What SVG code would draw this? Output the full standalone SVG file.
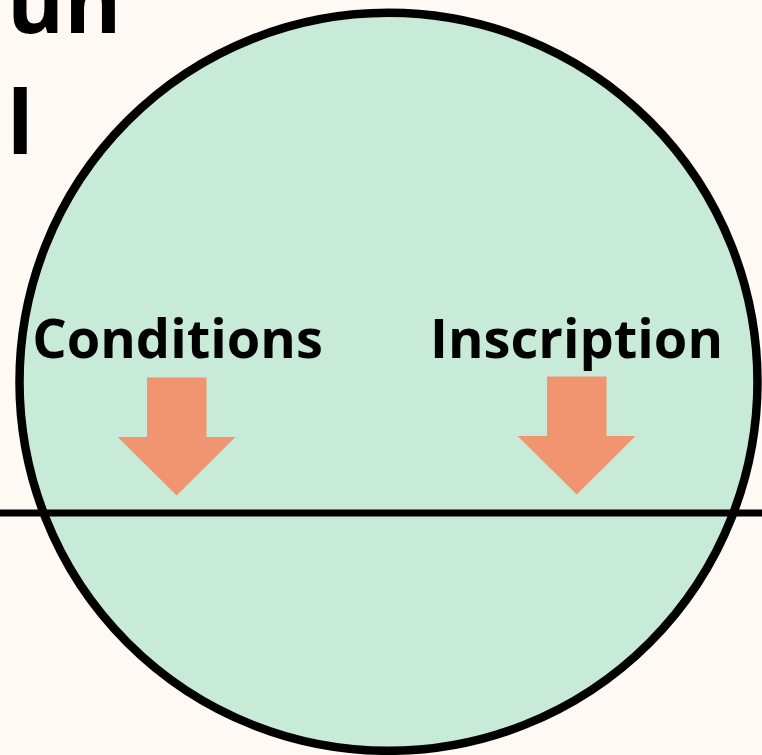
<svg xmlns="http://www.w3.org/2000/svg" width="762" height="755" viewBox="0 0 762 755">
<style>
.lbl{font-family:"Open Sans","Noto Sans","Liberation Sans",sans-serif;font-weight:700;fill:#000}
.arrow{fill:#F0956F}
</style>
<rect width="762" height="755" fill="#FFF9F5"/>
<g id="title">
<text class="lbl" x="7" y="33" font-size="87">un</text>
<text class="lbl" x="7" y="154" font-size="87">l</text>
</g>
<g id="circle">
<circle cx="388.5" cy="381.8" r="369" fill="#C8EAD9" stroke="#000" stroke-width="8.5"/>
</g>
<g id="connectors">
<line x1="0" y1="513" x2="762" y2="513" stroke="#000" stroke-width="7"/>
</g>
<g id="conditions">
<text class="lbl" x="177.5" y="358" font-size="54.2" text-anchor="middle">Conditions</text>
<polygon class="arrow" points="147,377.5 206.5,377.5 206.5,437 235.5,437 176.7,495.5 117.7,437 147,437"/>
</g>
<g id="inscription">
<text class="lbl" x="576.5" y="358" font-size="54.2" text-anchor="middle">Inscription</text>
<polygon class="arrow" points="547,376.5 606.5,376.5 606.5,436 635.5,436 576.7,494.5 517.7,436 547,436"/>
</g>
</svg>
